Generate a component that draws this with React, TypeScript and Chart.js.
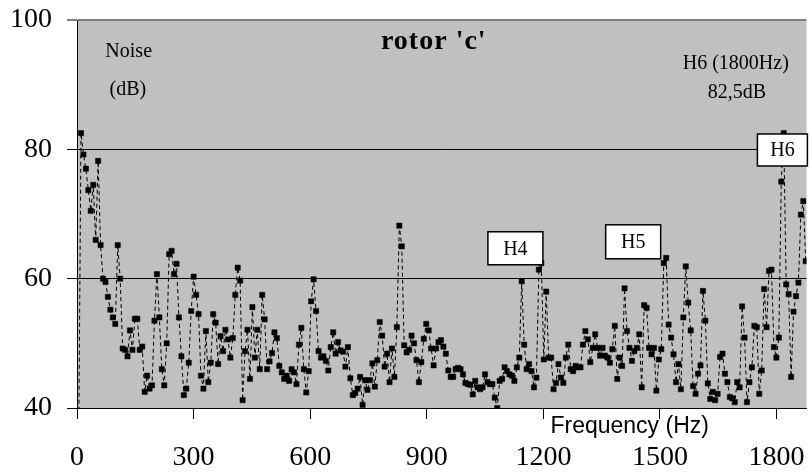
import React, { useEffect, useRef } from "react";
import { Chart, registerables } from "chart.js";

Chart.register(...registerables);

// ---- data ----
const FREQ_START_HZ = 4;
const FREQ_STEP_HZ = 6.3;

const NOISE_DB: number[] = [
  32, 82.5, 79.2, 77, 73.7, 70.5, 74.5, 66, 78.2, 65.2,
  60, 59.5, 57.2, 55.2, 54, 53, 65.2, 60, 49.2, 49,
  48, 52, 49, 53.8, 53.8, 49, 49.5, 42.5, 45, 43,
  43.5, 53.5, 60.7, 54, 46, 43.5, 50, 63.8, 64.3, 60.7,
  62.3, 54, 48, 42, 43, 47, 55, 60.3, 57.5, 54.5,
  45, 43, 51.9, 44, 47, 54.5, 53.2, 46.8, 51.1, 48.8,
  52.1, 50.6, 47.8, 50.8, 57.5, 61.7, 59.7, 41.2, 48.8, 52.1,
  44.5, 55.6, 47.8, 52.1, 46, 57.5, 53.7, 46, 47.2, 48.5,
  51.7, 50.8, 46.5, 45.5, 44.5, 45, 44.2, 46, 45.5, 43.7,
  49.8, 52.4, 46, 42.4, 45.7, 56.5, 59.9, 55, 48.8, 47.8,
  48, 47.3, 45.8, 49.4, 51.7, 48.4, 50.2, 48.9, 48.7, 46.4,
  49.4, 44.6, 42, 42.3, 43, 44.8, 40.5, 44.3, 42.8, 44.3,
  46.9, 43.3, 47.4, 53.3, 51.2, 46.4, 48.4, 44, 49.2, 44.8,
  52.5, 68.2, 65, 49.7, 48.6, 49, 51.2, 50, 47.4, 44,
  47.1, 50.7, 53, 52, 49.2, 46.6, 49.2, 50.2, 50.5, 49.5,
  48.4, 45.8, 44.8, 44.8, 46, 46.2, 46, 45.2, 43.9, 43.7,
  43.6, 42.1, 44.2, 43.2, 42.9, 43.2, 45.2, 44, 43.7, 43.7,
  41.6, 40, 44.2, 44.5, 46.3, 45.7, 45.2, 45, 44.2, 46.3,
  47.8, 59.6, 49.8, 46, 46.8, 45.7, 43.2, 44.7, 61.4, 62.4,
  47.5, 58, 47.8, 47.8, 42.9, 43.9, 46.8, 44.7, 43.9, 47.8,
  49.8, 46, 45.7, 46.5, 46.3, 46.3, 49.8, 51.9, 50.6, 47.1,
  49.3, 51.4, 49.3, 48.1, 49.3, 48.1, 47.8, 47, 49.1, 52.7,
  44.5, 47.8, 46.5, 58.5, 51.9, 49.3, 47.3, 48.8, 49.3, 51.4,
  43.2, 55.9, 55.5, 49.3, 48.3, 49.3, 42.7, 47.5, 49.1, 62.4,
  63.2, 52.9, 50.9, 48.3, 44, 46.8, 42.9, 54, 61.9, 56.3,
  52, 43.4, 42.2, 45.3, 46.6, 58.1, 53.5, 43.8, 41.4, 42.5,
  41.2, 42.2, 47.9, 48.4, 45.3, 44, 41.7, 41.5, 40.9, 44,
  43.2, 55.7, 50.9, 40.9, 44, 46.3, 52.7, 52.5, 42.2, 45.8,
  58.4, 52.5, 61.2, 61.4, 49.4, 47.8, 50.9, 75, 82.5, 59.1,
  57.6, 44.8, 54.9, 57.3, 59.4, 69.9, 72, 62.7,
];

const X_TICK_VALUES = [0, 300, 600, 900, 1200, 1500, 1800];
const Y_TICK_VALUES = [40, 60, 80, 100];

const TITLE = "rotor 'c'";
const Y_LABEL_LINES = ["Noise", "(dB)"];
const X_LABEL = "Frequency (Hz)";
const H6_NOTE_LINES = ["H6 (1800Hz)", "82,5dB"];
const HARMONIC_LABELS = ["H4", "H5", "H6"];

// ---- layout / style ----
const SERIF = '"Liberation Serif", "Times New Roman", serif';
const SANS = '"Liberation Sans", Arial, sans-serif';
const X_MIN = 0;
const X_MAX = 1877;
const Y_MIN = 40;
const Y_MAX = 100;

// positions in data coordinates (Hz, dB)
const NOTE_POS = {
  title: { f: 918, db: 96.6 },
  yLabel: [
    { f: 133, db: 95.1 },
    { f: 131, db: 89.2 },
  ],
  h6Note: [
    { f: 1695, db: 93.3 },
    { f: 1698, db: 88.8 },
  ],
  xLabel: { f: 1422, db: 37.1 },
  boxes: [
    { f: 1128, db: 64.7, w: 55, h: 33 },
    { f: 1431, db: 65.7, w: 55, h: 34 },
    { f: 1815, db: 79.9, w: 50, h: 32 },
  ],
};

const overlayPlugin = {
  id: "overlay",
  beforeDraw(chart: any) {
    const { ctx, chartArea } = chart;
    ctx.save();
    ctx.fillStyle = "#ffffff";
    ctx.fillRect(0, 0, chart.width, chart.height);
    ctx.fillStyle = "#C0C0C0";
    ctx.fillRect(
      chartArea.left,
      chartArea.top,
      chartArea.right - chartArea.left,
      chartArea.bottom - chartArea.top
    );
    ctx.restore();
  },
  afterDraw(chart: any) {
    const { ctx } = chart;
    const xs = chart.scales.x;
    const ys = chart.scales.y;
    const px = (f: number) => xs.getPixelForValue(f);
    const py = (d: number) => ys.getPixelForValue(d);
    ctx.save();
    ctx.fillStyle = "#000";
    ctx.textAlign = "center";
    ctx.textBaseline = "middle";

    // title
    ctx.font = `bold 28px ${SERIF}`;
    try {
      (ctx as any).letterSpacing = "1px";
    } catch (e) {}
    ctx.fillText(TITLE, px(NOTE_POS.title.f), py(NOTE_POS.title.db));
    try {
      (ctx as any).letterSpacing = "0px";
    } catch (e) {}

    // y label
    ctx.font = `20px ${SERIF}`;
    Y_LABEL_LINES.forEach((t, i) => {
      ctx.fillText(t, px(NOTE_POS.yLabel[i].f), py(NOTE_POS.yLabel[i].db));
    });

    // H6 note
    H6_NOTE_LINES.forEach((t, i) => {
      ctx.fillText(t, px(NOTE_POS.h6Note[i].f), py(NOTE_POS.h6Note[i].db));
    });

    // harmonic boxes
    HARMONIC_LABELS.forEach((t, i) => {
      const b = NOTE_POS.boxes[i];
      const cx = px(b.f);
      const cy = py(b.db);
      ctx.fillStyle = "#fff";
      ctx.fillRect(cx - b.w / 2, cy - b.h / 2, b.w, b.h);
      ctx.strokeStyle = "#000";
      ctx.lineWidth = 1.5;
      ctx.strokeRect(cx - b.w / 2, cy - b.h / 2, b.w, b.h);
      ctx.fillStyle = "#000";
      ctx.font = `20px ${SERIF}`;
      ctx.fillText(t, cx, cy + 1);
    });

    // x label
    ctx.font = `23px ${SANS}`;
    ctx.fillText(X_LABEL, px(NOTE_POS.xLabel.f), py(NOTE_POS.xLabel.db));
    ctx.restore();
  },
};

export default function App() {
  const canvasRef = useRef<HTMLCanvasElement | null>(null);

  useEffect(() => {
    const canvas = canvasRef.current;
    if (!canvas) return;
    const points = NOISE_DB.map((v, i) => ({
      x: FREQ_START_HZ + FREQ_STEP_HZ * i,
      y: v,
    }));
    const chart = new Chart(canvas, {
      type: "line",
      data: {
        datasets: [
          {
            data: points,
            borderColor: "#000",
            borderWidth: 1,
            borderDash: [4, 3],
            pointStyle: "rect",
            pointRadius: 3.7,
            pointBackgroundColor: "#000",
            pointBorderColor: "#000",
            pointBorderWidth: 0.5,
            tension: 0,
            fill: false,
          },
        ],
      },
      options: {
        animation: false,
        responsive: false,
        devicePixelRatio: 1,
        layout: { padding: { top: 20, right: 0, left: 0, bottom: 0 } },
        plugins: {
          legend: { display: false },
          tooltip: { enabled: false },
        },
        scales: {
          x: {
            type: "linear",
            min: X_MIN,
            max: X_MAX,
            afterBuildTicks: (s: any) => {
              s.ticks = X_TICK_VALUES.map((v) => ({ value: v }));
            },
            afterFit: (s: any) => {
              s.height = 64;
              s.paddingLeft = 0;
              s.paddingRight = 0;
            },
            grid: {
              drawOnChartArea: false,
              drawTicks: true,
              tickLength: 11,
              color: "#000",
              tickColor: "#000",
            },
            border: { display: true, color: "#000", width: 1 },
            ticks: {
              autoSkip: false,
              maxRotation: 0,
              padding: 22,
              color: "#000",
              font: { family: SERIF, size: 28 },
              callback: (v: any) => String(v),
            },
          },
          y: {
            type: "linear",
            min: Y_MIN,
            max: Y_MAX,
            afterBuildTicks: (s: any) => {
              s.ticks = Y_TICK_VALUES.map((v) => ({ value: v }));
            },
            afterFit: (s: any) => {
              s.width = 77;
              s.paddingTop = 0;
              s.paddingBottom = 0;
            },
            grid: {
              drawTicks: true,
              tickLength: 10,
              color: (c: any) =>
                c.tick && c.tick.value === Y_MAX
                  ? "#808080"
                  : c.tick && c.tick.value === Y_MIN
                  ? "rgba(0,0,0,0)"
                  : "#000",
              lineWidth: (c: any) => (c.tick && c.tick.value === Y_MAX ? 2 : 1),
              tickColor: (c: any) =>
                c.tick && c.tick.value === Y_MAX ? "#808080" : "#000",
            },
            border: { display: true, color: "#000", width: 1 },
            ticks: {
              padding: 15,
              color: "#000",
              font: { family: SERIF, size: 28 },
              callback: (v: any) => String(v),
            },
          },
        },
      },
      plugins: [overlayPlugin],
    } as any);
    return () => chart.destroy();
  }, []);

  return (
    <div
      style={{
        position: "absolute",
        left: 0,
        top: 0,
        width: 811,
        height: 472,
        background: "#fff",
      }}
    >
      <canvas
        ref={canvasRef}
        width={811}
        height={472}
        style={{ display: "block", width: 811, height: 472 }}
      />
    </div>
  );
}
